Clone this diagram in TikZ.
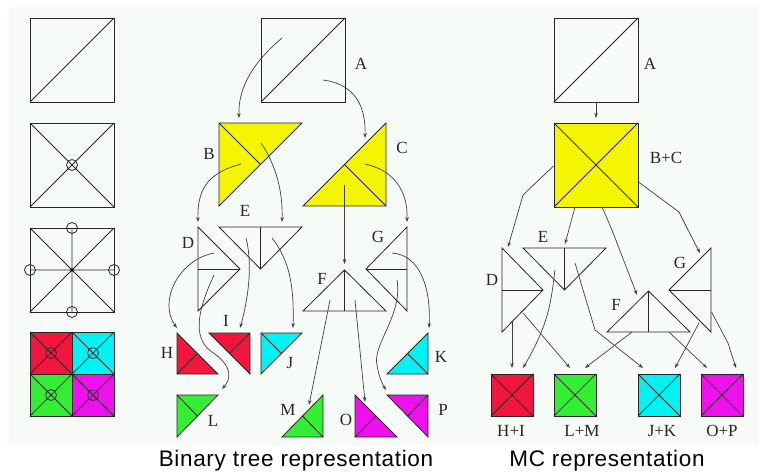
\documentclass[tikz,border=0pt]{standalone}
\usepackage{fontspec}
\setmainfont{Liberation Serif}
\newfontfamily\capfont[LetterSpace=3]{Liberation Sans}
\usetikzlibrary{arrows.meta}
\definecolor{bg}{HTML}{F7FBF8}
\definecolor{cred}{HTML}{F2163F}
\definecolor{ccyan}{HTML}{00F2F2}
\definecolor{cgreen}{HTML}{33EE33}
\definecolor{cmag}{HTML}{EE11EE}
\definecolor{cyel}{HTML}{F5F500}
\begin{document}
\begin{tikzpicture}[x=1pt,y=-1pt,
  ln/.style={draw=black!85,line width=0.8pt,line join=miter},
  arr/.style={draw=black!75,line width=0.7pt,-{Stealth[length=5pt,width=3.5pt]}},
  lab/.style={font=\fontsize{17}{17}\selectfont,text=black!85,inner sep=0pt},
  captext/.style={font=\capfont\fontsize{22.5}{22.5}\selectfont,text=black,inner sep=0pt,anchor=base}]
\useasboundingbox (0,0) rectangle (759,474);
\fill[bg] (9,7) rectangle (759,445);

% ---------- left column ----------
\draw[ln] (30,18) rectangle (114,102); \draw[ln] (30,102) -- (114,18);
\draw[ln] (30,123) rectangle (114,207);
\draw[ln] (30,123) -- (114,207) (30,207) -- (114,123);
\draw[ln] (72,165) circle[radius=5.5pt];
\draw[ln] (30,228) rectangle (114,312);
\draw[ln] (30,228) -- (114,312) (30,312) -- (114,228) (72,228) -- (72,312) (30,270) -- (114,270);
\foreach \p in {(72,228),(72,312),(30,270),(114,270)} \draw[ln] \p circle[radius=5.5pt];
\fill[black] (72,270) circle[radius=1.6pt];
\foreach \x/\y/\c in {30/332/cred,72/332/ccyan,30/374/cgreen,72/374/cmag}{
  \fill[\c] (\x,\y) rectangle ++(42,42);
  \draw[ln] (\x,\y) rectangle ++(42,42);
  \draw[ln] (\x,\y) -- ++(42,42);
  \draw[ln] (\x+42,\y) -- ++(-42,42);
  \draw[ln] (\x+21,\y+21) circle[radius=5.5pt];
}

% ---------- binary tree ----------
\draw[ln] (261,18) rectangle (345,102); \draw[ln] (261,102) -- (345,18);
\node[lab] (lA) at (361,64) {A};
\filldraw[ln,fill=cyel] (219,123) -- (302,123) -- (219,206) -- cycle;
\draw[ln] (219,123) -- (260.5,164.5);
\node[lab] (lB) at (209,154) {B};
\filldraw[ln,fill=cyel] (386,123) -- (386,206) -- (303,206) -- cycle;
\draw[ln] (386,206) -- (344.5,164.5);
\node[lab] (lC) at (402,148) {C};
\draw[ln] (198,227) -- (240,269) -- (198,311) -- cycle; \draw[ln] (198,269) -- (240,269);
\node[lab] (lD) at (188,243) {D};
\draw[ln] (219,227) -- (302,227) -- (260.5,269) -- cycle; \draw[ln] (260.5,227) -- (260.5,269);
\node[lab] (lE) at (245,211) {E};
\draw[ln] (344.5,270) -- (386,311) -- (303,311) -- cycle; \draw[ln] (344.5,270) -- (344.5,311);
\node[lab] (lF) at (322,279) {F};
\draw[ln] (407,227) -- (407,311) -- (366,269) -- cycle; \draw[ln] (366,269) -- (407,269);
\node[lab] (lG) at (378,237) {G};

\filldraw[ln,fill=cred] (177,333) -- (177,374) -- (218,374) -- cycle; \draw[ln] (177,374) -- (197.5,353.5);
\node[lab] (lH) at (167,353) {H};
\filldraw[ln,fill=cred] (209,333) -- (250,333) -- (250,374) -- cycle; \draw[ln] (250,333) -- (229.5,353.5);
\node[lab] (lI) at (226,321) {I};
\filldraw[ln,fill=ccyan] (261,333) -- (302,333) -- (261,374) -- cycle; \draw[ln] (261,333) -- (281.5,353.5);
\node[lab] (lJ) at (290,363) {J};
\filldraw[ln,fill=ccyan] (428,333) -- (428,374) -- (387,374) -- cycle; \draw[ln] (428,374) -- (407.5,353.5);
\node[lab] (lK) at (441,357) {K};
\filldraw[ln,fill=cgreen] (177,395) -- (218,395) -- (177,437) -- cycle; \draw[ln] (177,395) -- (197.5,416);
\node[lab] (lL) at (213,421) {L};
\filldraw[ln,fill=cgreen] (323,395) -- (323,437) -- (282,437) -- cycle; \draw[ln] (323,437) -- (302.5,416);
\node[lab] (lM) at (288,410) {M};
\filldraw[ln,fill=cmag] (355,395) -- (355,437) -- (397,437) -- cycle; \draw[ln] (355,437) -- (376,416);
\node[lab] (lO) at (346,420) {O};
\filldraw[ln,fill=cmag] (387,395) -- (428,395) -- (428,437) -- cycle; \draw[ln] (428,395) -- (407.5,416);
\node[lab] (lP) at (443,410) {P};

% connector end points
\coordinate (aB1) at (282,38);  \coordinate (aB2) at (239,118);
\coordinate (aC1) at (323,80);  \coordinate (aC2) at (365,138);
\coordinate (bD1) at (241,164); \coordinate (bD2) at (198,222);
\coordinate (bE1) at (261,143); \coordinate (bE2) at (282,222);
\coordinate (cG1) at (365,164); \coordinate (cG2) at (407,222);
\coordinate (cF1) at (344.5,185); \coordinate (cF2) at (344.5,264);
\coordinate (dH1) at (214,253); \coordinate (dH2) at (177,328);
\coordinate (dL1) at (214,275); \coordinate (dLm) at (212,352); \coordinate (dL2) at (222,389);
\coordinate (eI1) at (246,238); \coordinate (eI2) at (240,328);
\coordinate (eJ1) at (272,238); \coordinate (eJ2) at (293,328);
\coordinate (fM1) at (330,300); \coordinate (fM2) at (309,405);
\coordinate (fO1) at (355,300); \coordinate (fO2) at (365,402);
\coordinate (gK1) at (392,253); \coordinate (gK2) at (429,328);
\coordinate (gP1) at (397,280); \coordinate (gPm) at (377,365); \coordinate (gP2) at (386,390);

\draw[arr] (aB1) .. controls (256,60) and (238,85) .. (aB2);
\draw[arr] (aC1) .. controls (354,84) and (366,105) .. (aC2);
\draw[arr] (bD1) .. controls (212,172) and (197,185) .. (bD2);
\draw[arr] (bE1) .. controls (276,165) and (283,192) .. (bE2);
\draw[arr] (cG1) .. controls (393,170) and (408,190) .. (cG2);
\draw[arr] (cF1) -- (cF2);
\draw[arr] (dH1) .. controls (178,260) and (158,302) .. (dH2);
\draw[arr] (dL1) .. controls (200,305) and (190,337) .. (dLm) .. controls (233,366) and (231,379) .. (dL2);
\draw[arr] (eI1) .. controls (253,265) and (248,300) .. (eI2);
\draw[arr] (eJ1) .. controls (291,262) and (294,290) .. (eJ2);
\draw[arr] (fM1) -- (fM2);
\draw[arr] (fO1) -- (fO2);
\draw[arr] (gK1) .. controls (421,255) and (431,290) .. (gK2);
\draw[arr] (gP1) .. controls (403,315) and (372,345) .. (gPm) .. controls (379,378) and (383,385) .. (gP2);

% ---------- MC representation ----------
\draw[ln] (554,18) rectangle (638,102); \draw[ln] (554,102) -- (638,18);
\node[lab] (mA) at (650,64) {A};
\filldraw[ln,fill=cyel] (554,123) rectangle (638,207);
\draw[ln] (554,123) -- (638,207) (554,207) -- (638,123);
\node[lab] (mBC) at (666,158) {B+C};
\draw[ln] (502,248) -- (543,290) -- (502,332) -- cycle; \draw[ln] (502,290) -- (543,290);
\node[lab] (mD) at (492,280) {D};
\draw[ln] (523,248) -- (606,248) -- (564.5,290) -- cycle; \draw[ln] (564.5,248) -- (564.5,290);
\node[lab] (mE) at (543,237) {E};
\draw[ln] (648.5,291) -- (690,332) -- (607,332) -- cycle; \draw[ln] (648.5,291) -- (648.5,332);
\node[lab] (mF) at (616,305) {F};
\draw[ln] (711,248) -- (711,332) -- (669,290) -- cycle; \draw[ln] (669,290) -- (711,290);
\node[lab] (mG) at (680,263) {G};
\foreach \x/\c in {491/cred,554/cgreen,638/ccyan,701/cmag}{
  \filldraw[ln,fill=\c] (\x,374) rectangle ++(42,42);
  \draw[ln] (\x,374) -- ++(42,42);
  \draw[ln] (\x+42,374) -- ++(-42,42);
}
\node[lab] (mHI) at (511,431) {H+I};
\node[lab] (mLM) at (582,431) {L+M};
\node[lab] (mJK) at (662,431) {J+K};
\node[lab] (mOP) at (722,431) {O+P};

\coordinate (mab1) at (596,102); \coordinate (mab2) at (596,118);
\coordinate (md1) at (553.5,166); \coordinate (md2) at (508,247);
\coordinate (me1) at (575,207); \coordinate (me2) at (565,244);
\coordinate (mf1) at (602,207); \coordinate (mf2) at (637,295);
\coordinate (mg1) at (638.5,182); \coordinate (mg2) at (700,253);
\coordinate (dhi1) at (512,322); \coordinate (dhi2) at (512,368);
\coordinate (ehi1) at (555,270); \coordinate (ehi2) at (523,368);
\coordinate (dlm1) at (523,313); \coordinate (dlm2) at (570,368);
\coordinate (ejk1) at (575,263); \coordinate (ejk2) at (643,368);
\coordinate (flm1) at (632,332); \coordinate (flm2) at (585,368);
\coordinate (fop1) at (669,332); \coordinate (fop2) at (707,368);
\coordinate (gjk1) at (699,323); \coordinate (gjk2) at (675,368);
\coordinate (gop1) at (711.5,312); \coordinate (gop2) at (736,368);

\draw[arr] (mab1) -- (mab2);
\draw[arr] (md1) -- (523,195) -- (md2);
\draw[arr] (me1) -- (me2);
\draw[arr] (mf1) -- (612,230) -- (mf2);
\draw[arr] (mg1) -- (679,212) -- (688,230) -- (mg2);
\draw[arr] (dhi1) -- (dhi2);
\draw[arr] (ehi1) .. controls (551,300) and (550,322) .. (ehi2);
\draw[arr] (dlm1) -- (dlm2);
\draw[arr] (ejk1) -- (595,330) -- (ejk2);
\draw[arr] (flm1) -- (flm2);
\draw[arr] (fop1) -- (fop2);
\draw[arr] (gjk1) -- (gjk2);
\draw[arr] (gop1) -- (728,343) -- (gop2);

% captions
\node[captext] (cap1) at (296,466.5) {Binary tree representation};
\node[captext] (cap2) at (607,466.5) {MC representation};
\end{tikzpicture}
\end{document}
